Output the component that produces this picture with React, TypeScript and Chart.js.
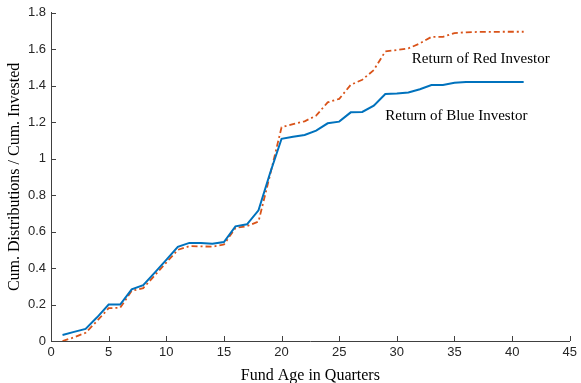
import React, { useEffect, useRef } from "react";
import { Chart, registerables } from "chart.js";

Chart.register(...registerables);

const quarters = [1,2,3,4,5,6,7,8,9,10,11,12,13,14,15,16,17,18,19,20,21,22,23,24,25,26,27,28,29,30,31,32,33,34,35,36,37,38,39,40,41];
const blueValues = [0.033,0.05,0.066,0.13,0.2,0.2,0.283,0.306,0.375,0.445,0.516,0.538,0.537,0.534,0.543,0.629,0.64,0.717,0.92,1.109,1.12,1.13,1.154,1.194,1.203,1.254,1.256,1.291,1.355,1.358,1.363,1.381,1.404,1.404,1.416,1.42,1.421,1.42,1.421,1.421,1.421];
const redValues = [0.0,0.02,0.045,0.11,0.18,0.182,0.275,0.29,0.36,0.43,0.5,0.52,0.519,0.517,0.529,0.62,0.63,0.655,0.91,1.172,1.19,1.205,1.236,1.309,1.328,1.405,1.433,1.486,1.588,1.596,1.605,1.632,1.668,1.668,1.689,1.693,1.695,1.695,1.696,1.696,1.696];
const seriesNames = ["Return of Blue Investor", "Return of Red Investor"];
const xTickValues = [0,5,10,15,20,25,30,35,40,45];
const yTickValues = [0,0.2,0.4,0.6,0.8,1,1.2,1.4,1.6,1.8];
const labelPositions = [
  { text: "Return of Red Investor", x: 31.3, y: 1.548 },
  { text: "Return of Blue Investor", x: 29.0, y: 1.231 },
];

const AXIS_COLOR = "#404040";
const TEXT_COLOR = "#262626";
const SERIF = "'Liberation Serif', 'Times New Roman', serif";
const SANS = "'Liberation Sans', Arial, sans-serif";

const overlayPlugin = {
  id: "overlay",
  afterDraw(chart: any) {
    const { ctx, scales } = chart;
    const xs = scales.x;
    const ys = scales.y;
    ctx.save();
    ctx.strokeStyle = AXIS_COLOR;
    ctx.lineWidth = 1;
    ctx.beginPath();
    for (const v of xTickValues) {
      const px = Math.round(xs.getPixelForValue(v)) + 0.5;
      ctx.moveTo(px, ys.bottom);
      ctx.lineTo(px, ys.bottom - 5);
    }
    for (const v of yTickValues) {
      const py = Math.round(ys.getPixelForValue(v)) + 0.5;
      ctx.moveTo(xs.left, py);
      ctx.lineTo(xs.left + 5, py);
    }
    ctx.stroke();
    ctx.fillStyle = "#000000";
    ctx.font = "15px " + SERIF;
    ctx.textAlign = "left";
    ctx.textBaseline = "middle";
    for (const l of labelPositions) {
      ctx.fillText(l.text, xs.getPixelForValue(l.x), ys.getPixelForValue(l.y));
    }
    ctx.restore();
  },
};

export default function App() {
  const ref = useRef<HTMLCanvasElement>(null);
  useEffect(() => {
    if (!ref.current) return;
    const chart = new Chart(ref.current, {
      type: "line",
      data: {
        datasets: [
          {
            label: seriesNames[0],
            data: quarters.map((q, i) => ({ x: q, y: blueValues[i] })),
            borderColor: "#0072BD",
            borderWidth: 2,
            pointRadius: 0,
            tension: 0,
            fill: false,
          },
          {
            label: seriesNames[1],
            data: quarters.map((q, i) => ({ x: q, y: redValues[i] })),
            borderColor: "#D95319",
            borderWidth: 1.8,
            borderDash: [6, 3, 2, 3],
            pointRadius: 0,
            tension: 0,
            fill: false,
          },
        ],
      },
      options: {
        animation: false,
        responsive: false,
        maintainAspectRatio: false,
        layout: { padding: { top: 12, right: 11, left: 0, bottom: 0 } },
        plugins: { legend: { display: false }, tooltip: { enabled: false } },
        scales: {
          x: {
            type: "linear",
            min: 0,
            max: 45,
            afterFit: (s: any) => { s.height = 42; },
            afterBuildTicks: (s: any) => { s.ticks = xTickValues.map((v) => ({ value: v })); },
            grid: { display: false, drawTicks: false },
            border: { display: true, color: AXIS_COLOR, width: 1 },
            ticks: {
              color: TEXT_COLOR,
              padding: 4,
              maxRotation: 0,
              callback: (v: any) => String(v),
              font: { family: SANS, size: 13 },
            },
            title: {
              display: true,
              text: "Fund Age in Quarters",
              color: "#000000",
              padding: { top: 0, bottom: -2 },
              font: { family: SERIF, size: 16 },
            },
          },
          y: {
            type: "linear",
            min: 0,
            max: 1.8,
            afterFit: (s: any) => { s.width = 51; },
            afterBuildTicks: (s: any) => { s.ticks = yTickValues.map((v) => ({ value: v })); },
            grid: { display: false, drawTicks: false },
            border: { display: true, color: AXIS_COLOR, width: 1 },
            ticks: {
              color: TEXT_COLOR,
              padding: 5,
              callback: (v: any) => String(Number(Number(v).toFixed(1))),
              font: { family: SANS, size: 13 },
            },
            title: {
              display: true,
              text: "Cum. Distributions / Cum. Invested",
              color: "#000000",
              padding: { top: 5, bottom: 0 },
              font: { family: SERIF, size: 16 },
            },
          },
        },
      },
      plugins: [overlayPlugin],
    });
    return () => chart.destroy();
  }, []);
  return (
    <div style={{ position: "fixed", left: 0, top: 0, width: 581, height: 383, background: "#ffffff" }}>
      <canvas ref={ref} width={581} height={383} style={{ width: 581, height: 383, display: "block" }} />
    </div>
  );
}
